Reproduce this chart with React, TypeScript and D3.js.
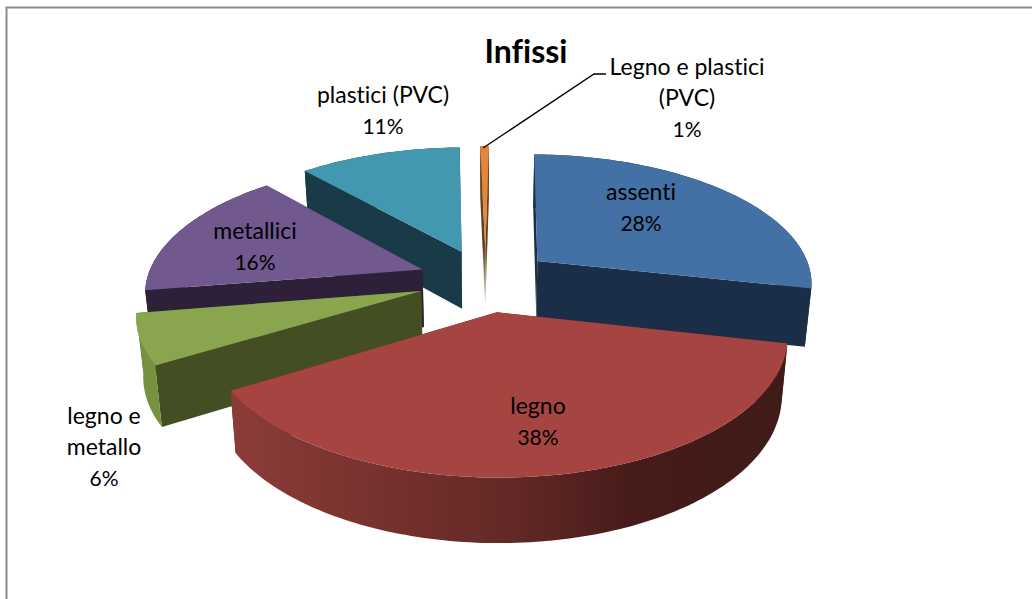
import React from "react";
import * as d3 from "d3";

const categories = ["assenti", "legno", "legno e metallo", "metallici", "plastici (PVC)", "Legno e plastici (PVC)"];
const shares = [28.2, 37.8, 6.1, 16.0, 11.2, 0.6];
const labelPercents = ["28%", "38%", "6%", "16%", "11%", "1%"];
const labelLines = [["assenti"], ["legno"], ["legno e", "metallo"], ["metallici"], ["plastici (PVC)"], ["Legno e plastici", "(PVC)"]];
const titleText = "Infissi";

const topColors = ["#4471a5", "#a64441", "#89a54e", "#71588f", "#4198af", "#e0883c"];
const wallColors = ["#1b2e47", "#5c2622", "#434f22", "#2d2038", "#193a47", "#5a3a1c"];
const rimColors = ["#1b2e47", "url(#legnoRim)", "#77923f", "#2d2038", "#193a47", "#5a3a1c"];
const labelCentres = [[641, 191], [538, 405], [104, 415], [255, 230], [383, 94], [687, 66]];

const W = 1032, H = 599;
const CX = 485.5, CY = 280, R = 276, RK = 128.5, PERSP = 0.155, EXPLODE = 0.245;
const ROTATION = (0.9 * Math.PI) / 180;
const BOTTOM_SCALE = 0.98;

type P = [number, number];
const line = d3.line<P>().curve(d3.curveLinear);

const pieGen = d3.pie<number>().sort(null).startAngle(ROTATION).endAngle(ROTATION + 2 * Math.PI);

function project(X: number, Y: number): P {
  const w = 1 / (1 + PERSP * Y);
  return [CX + R * X * w, CY - RK * Y * w];
}
function projectBottom(X: number, Y: number): P {
  const w = 1 / (1 + PERSP * Y);
  const [x, y] = project(X, Y);
  return [CX + (x - CX) * BOTTOM_SCALE, y + 57 + (w - 0.964) * 31];
}

type Slice = { index: number; top: string; walls: { d: string; fill: string; depth: number }[] };

function buildSlices(): Slice[] {
  const arcs = pieGen(shares);
  const built = arcs.map((a, index) => {
    const mid = (a.startAngle + a.endAngle) / 2;
    const ox = EXPLODE * Math.sin(mid);
    const oy = EXPLODE * Math.cos(mid);
    const n = Math.max(2, Math.ceil((a.endAngle - a.startAngle) / 0.02));
    const angles = d3.range(n + 1).map((i) => a.startAngle + ((a.endAngle - a.startAngle) * i) / n);
    const rim3d = angles.map((t) => [ox + Math.sin(t), oy + Math.cos(t)] as P);
    const topRim = rim3d.map(([x, y]) => project(x, y));
    const botRim = rim3d.map(([x, y]) => projectBottom(x, y));
    const apexT = project(ox, oy);
    const apexB = projectBottom(ox, oy);
    const top = line([apexT, ...topRim])! + "Z";
    const quad = (i: number) => line([apexT, topRim[i], botRim[i], apexB])! + "Z";
    const rimPath = line([...topRim, ...botRim.slice().reverse()])! + "Z";
    const walls = [
      { d: quad(0), fill: wallColors[index], depth: (oy + rim3d[0][1] + oy) / 3 },
      { d: quad(n), fill: wallColors[index], depth: (oy + rim3d[n][1] + oy) / 3 },
      { d: rimPath, fill: rimColors[index], depth: d3.mean(rim3d, (p) => p[1])! },
    ].sort((p, q) => q.depth - p.depth);
    return { index, top, walls };
  });
  const drawOrder = [5, 4, 3, 2, 0, 1];
  return drawOrder.map((i) => built[i]);
}

const wordStyle: React.CSSProperties = { fontVariantLigatures: "none" };

export default function App() {
  const slices = buildSlices();
  return (
    <svg width={W} height={H} viewBox={`0 0 ${W} ${H}`} style={{ position: "fixed", left: 0, top: 0, display: "block", background: "#fff" }}>
      <defs>
        <linearGradient id="legnoRim" gradientUnits="userSpaceOnUse" x1={233} x2={789} y1={0} y2={0}>
          <stop offset="0" stopColor="#8c3c38" />
          <stop offset="0.25" stopColor="#78322f" />
          <stop offset="0.5" stopColor="#632926" />
          <stop offset="0.72" stopColor="#471b19" />
          <stop offset="1" stopColor="#3f1b18" />
        </linearGradient>
        <linearGradient id="sliverWall" x1="0" x2="0" y1="0" y2="1">
          <stop offset="0" stopColor="#7a4a1e" />
          <stop offset="0.6" stopColor="#5a3a1c" />
          <stop offset="1" stopColor="#d8cfc4" />
        </linearGradient>
      </defs>
      <path d={`M6.5 599V7.5H1032`} fill="none" stroke="#8c8c8c" strokeWidth={2} />
      {slices.map((s) => (
        <g key={categories[s.index]}>
          {s.walls.map((w, i) => (
            <path key={i} d={w.d} fill={s.index === 5 ? "url(#sliverWall)" : w.fill} />
          ))}
          <path d={s.top} fill={topColors[s.index]} />
        </g>
      ))}
      <path d="M483 148L594 74H606" fill="none" stroke="#000" strokeWidth={1.4} />
      <g fontFamily="Lato, sans-serif" fill="#000" textAnchor="middle" dominantBaseline="central" style={wordStyle}>
        {labelLines.map((lines, i) => (
          <text key={i}>
            {lines.map((t, j) => (
              <tspan key={j} x={labelCentres[i][0]} y={labelCentres[i][1] + j * 31} fontSize={23}>{t}</tspan>
            ))}
            <tspan x={labelCentres[i][0]} y={labelCentres[i][1] + lines.length * 31} fontSize={21}>{labelPercents[i]}</tspan>
          </text>
        ))}
      </g>
      <text x={526} y={50} fontFamily="Lato, sans-serif" fontSize={32} fontWeight={700} textAnchor="middle" dominantBaseline="central" style={wordStyle}>{titleText}</text>
    </svg>
  );
}
